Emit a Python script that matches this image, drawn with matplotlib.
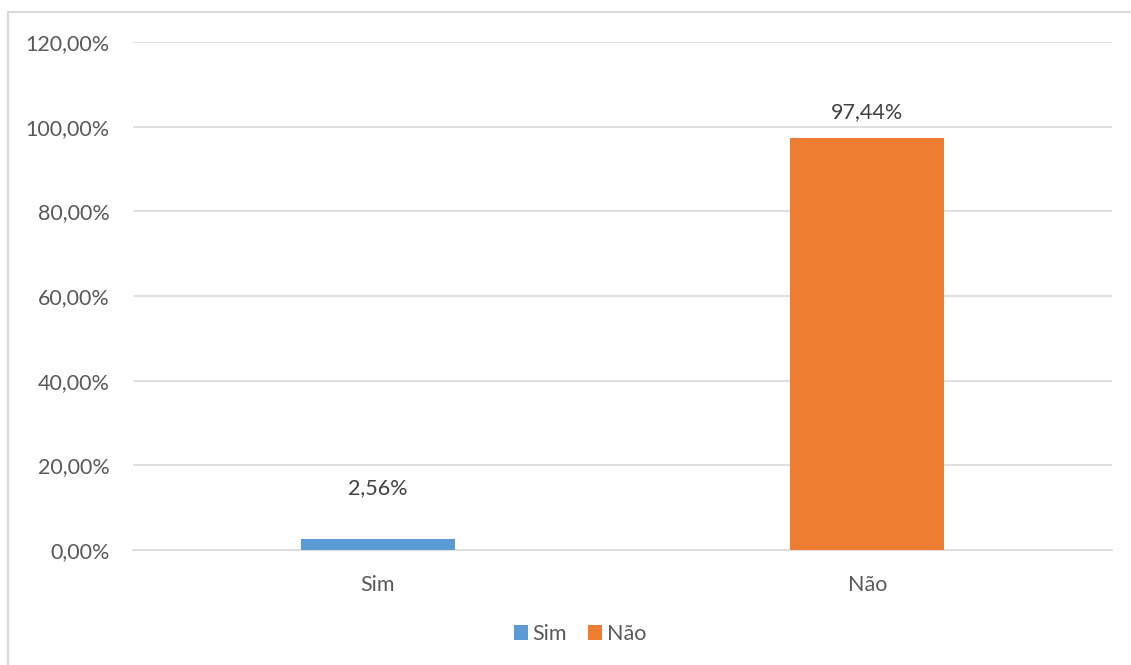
import matplotlib.pyplot as plt
from matplotlib.patches import Rectangle

categories = ["Sim", "Não"]
values = [2.56, 97.44]
colors = ["#5B9BD5", "#ED7D31"]
yticks = [0, 20, 40, 60, 80, 100, 120]
label_gap_px = [51, 25]

plt.rcParams['font.family'] = ['Lato', 'DejaVu Sans']
txt = "#595959"
fs = 15.5

fig = plt.figure(figsize=(11.31, 6.65), dpi=100)
ax = fig.add_axes([133 / 1131, 115 / 665, 979 / 1131, 508 / 665])

bars = ax.bar(range(len(categories)), values, width=0.315, color=colors,
              label=categories, zorder=3)
for b, v, g in zip(bars, values, label_gap_px):
    ax.annotate(f"{v:.2f}%".replace(".", ","), (b.get_x() + b.get_width() / 2, v),
                xytext=(0, g * 72 / 100), textcoords="offset points",
                ha="center", va="center", fontsize=fs, color="#404040")

ax.set_xlim(-0.5, 1.5)
ax.set_ylim(0, 120)
ax.set_yticks(yticks)
ax.set_yticklabels([f"{t:.2f}%".replace(".", ",") for t in yticks])
ax.set_xticks(range(len(categories)))
ax.set_xticklabels(categories)
ax.tick_params(axis="both", length=0, labelsize=fs, labelcolor=txt)
ax.tick_params(axis="y", pad=17)
ax.tick_params(axis="x", pad=18)
ax.grid(axis="y", color="#D9D9D9", linewidth=1.2, zorder=0)
for s in ["top", "right", "left"]:
    ax.spines[s].set_visible(False)
ax.spines["bottom"].set_color("#D9D9D9")
ax.spines["bottom"].set_linewidth(1.2)

ax.legend(handles=bars, labels=categories, loc="center",
          bbox_to_anchor=(580 / 1131, (665 - 634) / 665),
          bbox_transform=fig.transFigure, ncol=2, frameon=False, fontsize=fs,
          labelcolor=txt, handlelength=0.65, handleheight=0.65, handletextpad=0.2,
          columnspacing=1.0)

fig.add_artist(Rectangle((8 / 1131, -0.1), 1.2, (665 - 12) / 665 + 0.1,
                         transform=fig.transFigure, fill=False,
                         edgecolor="#D9D9D9", linewidth=1.5))

fig.savefig("out.png", dpi=100)
